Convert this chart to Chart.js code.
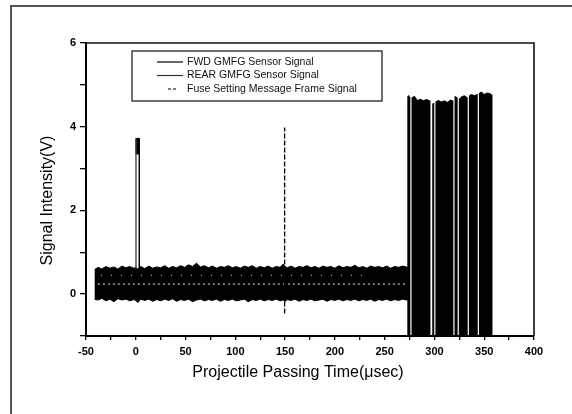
<!DOCTYPE html>
<html><head><meta charset="utf-8">
<script src="https://cdn.jsdelivr.net/npm/chart.js@4.4.1/dist/chart.umd.min.js"></script>
<style>
html,body{margin:0;padding:0;background:#fff;}
#wrap{position:relative;width:572px;height:414px;overflow:hidden;background:#fff;}
#frame{position:absolute;left:10px;top:5px;width:620px;height:520px;border-left:2px solid #555;border-top:2px solid #555;}
canvas{position:absolute;left:0;top:0;}
</style></head><body>
<div id="wrap"><div id="frame"></div><canvas id="c" width="572" height="414"></canvas></div>
<script>
// ---- tick labels / titles ----
const xTickLabels = [-50, 0, 50, 100, 150, 200, 250, 300, 350, 400];
const yTickLabels = [0, 2, 4, 6];
const xTitle = 'Projectile Passing Time(\u03bcsec)';
const yTitle = 'Signal Intensity(V)';
const seriesNames = ['FWD GMFG Sensor Signal', 'REAR GMFG Sensor Signal', 'Fuse Setting Message Frame Signal'];

// ---- noise band envelope ----
const bandX = [-41.5,-38,-34,-30,-26,-22,-18,-14,-10,-6,-2,0,2,5,9,13,17,21,25,29,33,37,41,45,49,53,57,61,65,69,73,77,81,85,89,93,97,101,105,109,113,117,121,125,129,133,137,141,145,148,150,152,156,160,164,168,172,176,180,184,188,192,196,200,204,208,212,216,220,224,228,232,236,240,244,248,252,256,260,264,268,272,274];
const bandTop = [0.58,0.64,0.60,0.66,0.62,0.65,0.60,0.67,0.63,0.66,0.62,0.64,0.60,0.66,0.61,0.67,0.62,0.65,0.63,0.68,0.62,0.66,0.63,0.68,0.64,0.70,0.66,0.74,0.65,0.68,0.63,0.67,0.62,0.66,0.64,0.68,0.63,0.66,0.62,0.67,0.64,0.68,0.62,0.66,0.63,0.67,0.62,0.66,0.64,0.72,0.66,0.63,0.67,0.62,0.66,0.64,0.68,0.63,0.66,0.62,0.67,0.64,0.66,0.62,0.68,0.63,0.66,0.64,0.69,0.63,0.66,0.62,0.67,0.64,0.66,0.63,0.67,0.62,0.66,0.64,0.67,0.65,0.62];
const bandBottom = [-0.12,-0.14,-0.10,-0.16,-0.12,-0.18,-0.11,-0.14,-0.12,-0.16,-0.13,-0.15,-0.20,-0.12,-0.15,-0.12,-0.17,-0.13,-0.16,-0.12,-0.15,-0.11,-0.17,-0.13,-0.15,-0.12,-0.18,-0.14,-0.12,-0.16,-0.13,-0.15,-0.12,-0.17,-0.13,-0.15,-0.12,-0.16,-0.14,-0.12,-0.18,-0.13,-0.15,-0.12,-0.16,-0.13,-0.15,-0.12,-0.16,-0.14,-0.18,-0.13,-0.15,-0.12,-0.17,-0.13,-0.15,-0.12,-0.16,-0.14,-0.12,-0.17,-0.13,-0.15,-0.12,-0.16,-0.13,-0.15,-0.12,-0.16,-0.13,-0.15,-0.12,-0.17,-0.13,-0.15,-0.12,-0.16,-0.13,-0.15,-0.12,-0.14,-0.12];
const traceX = [-38, 272];
const traceY = [0.24, 0.24];
const trace2X = [-35, 230];
const trace2Y = [0.45, 0.45];

// ---- fuse setting message frame burst ----
const burstX = [272.6,272.6,274.3,275.8,275.8,277.0,277.0,280,283,286,289,292,296.0,296.0,297.8,297.8,299.8,299.8,301.0,301.0,304,307,310,313,316,319.0,319.0,320.2,320.2,323.3,323.3,324.5,324.5,327,330,333.4,333.4,334.6,334.6,337,340,343.5,343.5,344.7,344.7,347,350,353,356,358.5,358.5];
const burstY = [-1,4.72,4.76,4.70,-1,-1,4.70,4.74,4.64,4.67,4.63,4.66,4.62,-1,-1,4.55,4.58,-1,-1,4.60,4.64,4.60,4.63,4.59,4.65,4.62,-1,-1,4.74,4.70,-1,-1,4.66,4.72,4.75,4.70,-1,-1,4.74,4.78,4.75,4.79,-1,-1,4.80,4.84,4.78,4.82,4.80,4.76,-1];

// ---- pulses ----
const fwdPulseX = [3.5, 3.5];
const fwdPulseY = [0.6, 3.72];
const rearPulseX = [0.2, 0.2];
const rearPulseY = [0.6, 3.72];
const pulseCapX = [0.2, 0.2, 3.5, 3.5, 0.2];
const pulseCapY = [3.35, 3.72, 3.72, 3.35, 3.35];
const fuseMarkX = [149.5, 149.5];
const fuseMarkY = [-0.46, 3.98];

const pts = (xs, ys) => xs.map((x, i) => ({x, y: ys[i]}));

const FONT = '"Liberation Sans", Arial, sans-serif';
Chart.defaults.font.family = FONT;

const decor = {
  id: 'decor',
  afterDraw(chart) {
    const {ctx, chartArea: a} = chart;
    ctx.save();
    ctx.strokeStyle = '#111';
    ctx.lineWidth = 1.6;
    ctx.beginPath();
    ctx.moveTo(a.left, a.top);
    ctx.lineTo(a.right, a.top);
    ctx.lineTo(a.right, a.bottom);
    ctx.stroke();
    // legend box
    ctx.fillStyle = '#fff';
    ctx.fillRect(132, 51, 250, 50);
    ctx.lineWidth = 1.3;
    ctx.strokeStyle = '#222';
    ctx.strokeRect(132, 51, 250, 50);
    const rows = [62, 75.5, 89];
    const cols = ['#000', '#333', '#000'];
    ctx.font = '10.5px ' + FONT;
    ctx.textBaseline = 'middle';
    ctx.textAlign = 'left';
    rows.forEach((ry, i) => {
      ctx.strokeStyle = cols[i];
      ctx.lineWidth = 1.2;
      ctx.beginPath();
      if (i < 2) { ctx.moveTo(157, ry); ctx.lineTo(183, ry); }
      else { ctx.setLineDash([3, 2]); ctx.moveTo(168, ry); ctx.lineTo(176, ry); }
      ctx.stroke();
      ctx.setLineDash([]);
      ctx.fillStyle = '#111';
      ctx.fillText(seriesNames[i], 187, ry);
    });
    // axis titles
    ctx.fillStyle = '#000';
    ctx.font = '16px ' + FONT;
    ctx.textAlign = 'center';
    ctx.fillText(xTitle, 298, 373);
    ctx.translate(47.5, 200.5);
    ctx.rotate(-Math.PI / 2);
    ctx.fillText(yTitle, 0, 0);
    ctx.restore();
  }
};

const lineBase = {pointRadius: 0, tension: 0, borderJoinStyle: 'miter'};

new Chart(document.getElementById('c'), {
  type: 'line',
  data: {
    datasets: [
      Object.assign({}, lineBase, {label: 'fuseMark', data: pts(fuseMarkX, fuseMarkY), borderColor: '#000', borderWidth: 1.3, borderDash: [5, 2], fill: false, order: 1}),
      Object.assign({}, lineBase, {label: 'fwd', data: pts(fwdPulseX, fwdPulseY), borderColor: '#000', borderWidth: 1.4, fill: false, order: 1}),
      Object.assign({}, lineBase, {label: 'rear', data: pts(rearPulseX, rearPulseY), borderColor: '#444', borderWidth: 1.4, fill: false, order: 1}),
      Object.assign({}, lineBase, {label: 'cap', data: pts(pulseCapX, pulseCapY), borderColor: '#000', borderWidth: 1, backgroundColor: '#000', fill: 'shape', order: 1}),
      Object.assign({}, lineBase, {label: 'trace', data: pts(traceX, traceY), borderColor: 'rgba(255,255,255,0.9)', borderWidth: 1, borderDash: [2, 3], fill: false, order: 3}),
      Object.assign({}, lineBase, {label: 'trace2', data: pts(trace2X, trace2Y), borderColor: 'rgba(255,255,255,0.8)', borderWidth: 1, borderDash: [1, 9], fill: false, order: 3}),
      Object.assign({}, lineBase, {label: 'bandTop', data: pts(bandX, bandTop), borderColor: '#000', borderWidth: 1, backgroundColor: '#000', fill: '+1', order: 5}),
      Object.assign({}, lineBase, {label: 'bandBot', data: pts(bandX, bandBottom), borderColor: '#000', borderWidth: 1, fill: false, order: 5}),
      Object.assign({}, lineBase, {label: 'burst', data: pts(burstX, burstY), borderColor: 'rgba(0,0,0,0)', borderWidth: 1, backgroundColor: '#000', fill: {value: -1}, order: 7})
    ]
  },
  options: {
    responsive: false,
    animation: false,
    events: [],
    layout: {padding: {left: 0, top: 43, right: 38, bottom: 0}},
    plugins: {legend: {display: false}, tooltip: {enabled: false}},
    scales: {
      x: {
        type: 'linear', min: -50, max: 400,
        afterFit: s => { s.height = 78; },
        ticks: {
          stepSize: 25, autoSkip: false, maxRotation: 0, padding: 5, color: '#000',
          font: {size: 11, weight: 'bold'},
          callback: v => (xTickLabels.includes(v) ? String(v) : '')
        },
        grid: {drawOnChartArea: false, drawTicks: true, tickLength: 4, color: '#000', lineWidth: 1.3},
        border: {display: true, color: '#000', width: 2},
        title: {display: false}
      },
      y: {
        type: 'linear', min: -1, max: 6,
        afterFit: s => { s.width = 86; },
        ticks: {
          stepSize: 1, autoSkip: false, padding: 4, color: '#000',
          font: {size: 11, weight: 'bold'},
          callback: v => (yTickLabels.includes(v) ? String(v) : '')
        },
        grid: {drawOnChartArea: false, drawTicks: true, tickLength: 6, color: '#000', lineWidth: 1.3},
        border: {display: true, color: '#000', width: 2},
        title: {display: false}
      }
    }
  },
  plugins: [decor]
});
</script>
</body></html>
